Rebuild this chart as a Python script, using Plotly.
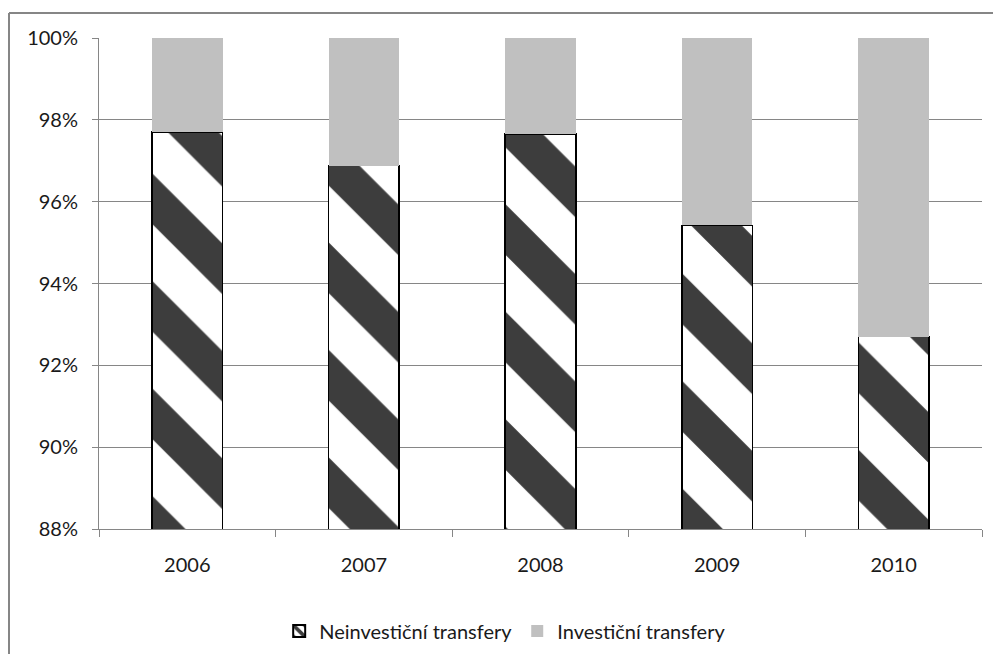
import plotly.graph_objects as go

# Share of transfers by type, 2006-2010 (percent of total)
years = ["2006", "2007", "2008", "2009", "2010"]
neinvesticni = [97.70, 96.88, 97.66, 95.42, 92.70]
investicni = [2.30, 3.12, 2.34, 4.58, 7.30]
y_ticks = [88, 90, 92, 94, 96, 98, 100]
y_tick_labels = ["88%", "90%", "92%", "94%", "96%", "98%", "100%"]

W, H = 993, 654
ML, MR, MT, MB = 99, 11, 38, 125
plot_w = W - ML - MR
plot_h = H - MT - MB

axis_grey = "#868686"
font_family = "Lato, 'Open Sans', sans-serif"

fig = go.Figure()
fig.add_trace(go.Bar(
    x=years, y=neinvesticni, name="Neinvestiční transfery",
    marker=dict(
        color="#ffffff",
        line=dict(color="#000000", width=1.5),
        pattern=dict(shape="\\", fgcolor="#3d3d3d", bgcolor="#ffffff",
                     size=76, solidity=0.47, fillmode="replace"),
    ),
))
fig.add_trace(go.Bar(
    x=years, y=investicni, name="Investiční transfery",
    marker=dict(color="#c0c0c0", line=dict(width=0)),
))

# outer chart frame (top and left edges visible)
def px_x(px):
    return (px - ML) / plot_w

def px_y(py):
    return (H - MB - py) / plot_h

fig.add_shape(type="line", xref="paper", yref="paper",
              x0=px_x(9), x1=px_x(W + 5), y0=px_y(13), y1=px_y(13),
              line=dict(color=axis_grey, width=2))
fig.add_shape(type="line", xref="paper", yref="paper",
              x0=px_x(9), x1=px_x(9), y0=px_y(13), y1=px_y(H + 5),
              line=dict(color=axis_grey, width=2))

fig.update_layout(
    width=W, height=H,
    margin=dict(l=ML, r=MR, t=MT, b=MB, autoexpand=False),
    barmode="stack", bargap=0.6,
    paper_bgcolor="white", plot_bgcolor="white",
    font=dict(family=font_family, size=20, color="#1a1a1a"),
    showlegend=True,
    legend=dict(orientation="h", x=0.46, xanchor="center",
                y=px_y(631), yanchor="middle",
                font=dict(size=20), traceorder="normal",
                itemsizing="constant"),
)
fig.update_xaxes(
    type="category", showline=True, linecolor=axis_grey, linewidth=1,
    ticks="outside", tickson="boundaries", ticklen=7, tickcolor=axis_grey,
    ticklabelstandoff=18, showgrid=False, automargin=False,
)
fig.update_yaxes(
    range=[88, 100], tickmode="array", tickvals=y_ticks, ticktext=y_tick_labels,
    showline=True, linecolor=axis_grey, linewidth=1,
    ticks="outside", ticklen=6, tickcolor=axis_grey,
    showgrid=True, gridcolor=axis_grey, gridwidth=1,
    ticklabelstandoff=10, zeroline=False, automargin=False,
)

fig.write_html("out.html")
